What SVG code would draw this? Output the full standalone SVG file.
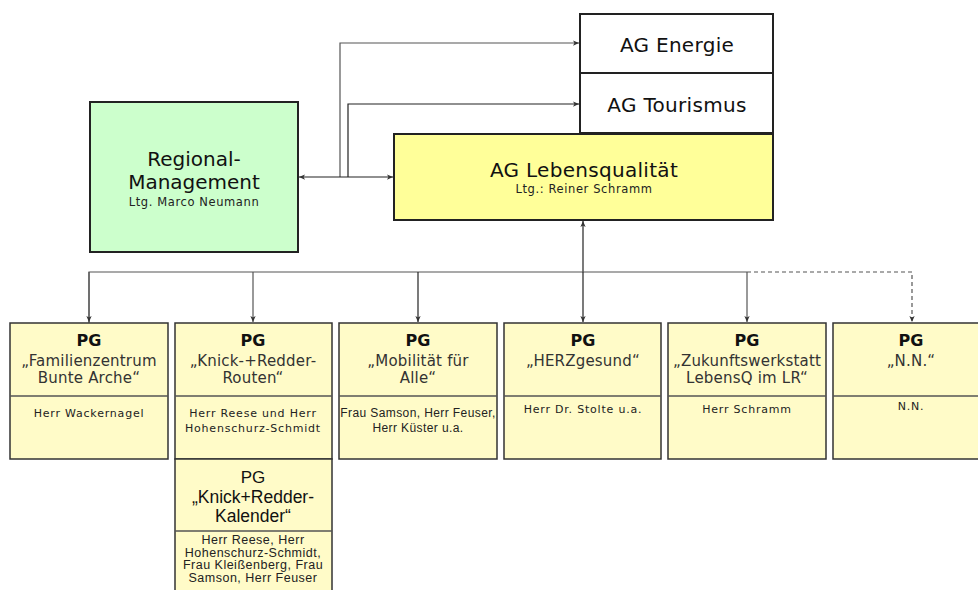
<svg xmlns="http://www.w3.org/2000/svg" width="978" height="590" viewBox="0 0 978 590">
<defs>
<marker id="ah" viewBox="0 0 8 8" refX="8" refY="4" markerWidth="6" markerHeight="6" orient="auto-start-reverse" markerUnits="userSpaceOnUse">
<path d="M0,0.5 L8,4 L0,7.5 L2,4 Z" fill="#333"/>
</marker>
</defs>
<style>
.box{stroke:#222;stroke-width:2}
.pg{fill:#FFFBC8;stroke:#333;stroke-width:1.5}
.div{stroke:#555;stroke-width:1.5}
.t{font-family:"DejaVu Sans",Verdana,sans-serif;fill:#111;text-anchor:middle}
.a{font-family:"Liberation Sans",Arial,sans-serif;fill:#111;text-anchor:middle}
.big{font-size:20px}
.ag{font-size:20px;letter-spacing:0.3px}
.sm{font-size:11.5px;letter-spacing:0.6px;fill:#222}
.pgh{font-size:16px;font-weight:bold}
.sub{font-size:15px;letter-spacing:0.2px;fill:#333}
.per{font-size:11px;letter-spacing:0.8px;fill:#222}
.pa{font-size:12px;letter-spacing:0.4px;fill:#222}
.pk{font-size:12.5px;letter-spacing:0.5px;fill:#222}
.ln{fill:none;stroke:#555;stroke-width:1.2}
.lk{fill:none;stroke:#222;stroke-width:1.2}
</style>
<rect width="978" height="590" fill="#fff"/>
<g id="connectors">
<path class="ln" d="M340,177 V43 H579" marker-end="url(#ah)"/>
<path class="lk" d="M348,177 V104 H579" marker-end="url(#ah)"/>
<path class="lk" d="M299,177 H393" marker-start="url(#ah)" marker-end="url(#ah)"/>
<path class="lk" d="M583,272 V221" marker-end="url(#ah)"/>
<path class="ln" d="M89,323 V272 H747"/>
<path class="ln" d="M89,272 V322" marker-end="url(#ah)"/>
<path class="ln" d="M253,272 V322" marker-end="url(#ah)"/>
<path class="lk" d="M418,272 V322" marker-end="url(#ah)"/>
<path class="lk" d="M583,272 V322" marker-end="url(#ah)"/>
<path class="ln" d="M747,272 V322" marker-end="url(#ah)"/>
<path class="ln" d="M747,272 H912 V322" stroke-dasharray="4,3" marker-end="url(#ah)"/>
</g>
<g id="ag-energie">
<rect class="box" x="580" y="14" width="193" height="59" fill="#fff"/>
<text class="t ag" x="677" y="52">AG Energie</text>
</g>
<g id="ag-tourismus">
<rect class="box" x="580" y="73" width="193" height="60" fill="#fff"/>
<text class="t ag" x="677" y="112">AG Tourismus</text>
</g>
<g id="ag-lebensqualitaet">
<rect class="box" x="394" y="134" width="379" height="86" fill="#FFFF99"/>
<text class="t ag" x="584" y="177">AG Lebensqualität</text>
<text class="t sm" x="584" y="193">Ltg.: Reiner Schramm</text>
</g>
<g id="regional-management">
<rect class="box" x="90" y="102" width="208" height="150" fill="#CCFFCC"/>
<text class="t big" x="194" y="166">Regional-</text>
<text class="t big" x="194" y="189">Management</text>
<text class="t sm" x="194" y="206">Ltg. Marco Neumann</text>
</g>
<g id="pg-familienzentrum">
<rect class="pg" x="10" y="323" width="158" height="136"/>
<line class="div" x1="10" y1="396" x2="168" y2="396"/>
<text class="t pgh" x="89" y="346">PG</text>
<text class="t sub" x="89" y="366">„Familienzentrum</text>
<text class="t sub" x="89" y="383">Bunte Arche“</text>
<text class="t per" x="89" y="417">Herr Wackernagel</text>
</g>
<g id="pg-knick-routen">
<rect class="pg" x="175" y="323" width="157" height="136"/>
<line class="div" x1="175" y1="396" x2="332" y2="396"/>
<text class="t pgh" x="253" y="346">PG</text>
<text class="t sub" x="253" y="366">„Knick-+Redder-</text>
<text class="t sub" x="253" y="383">Routen“</text>
<text class="t per" x="253" y="417">Herr Reese und Herr</text>
<text class="t per" x="253" y="432">Hohenschurz-Schmidt</text>
</g>
<g id="pg-mobilitaet">
<rect class="pg" x="339" y="323" width="158" height="136"/>
<line class="div" x1="339" y1="396" x2="497" y2="396"/>
<text class="t pgh" x="418" y="346">PG</text>
<text class="t sub" x="418" y="366">„Mobilität für</text>
<text class="t sub" x="418" y="383">Alle“</text>
<text class="a pa" x="418" y="417">Frau Samson, Herr Feuser,</text>
<text class="a pa" x="418" y="432">Herr Küster u.a.</text>
</g>
<g id="pg-herzgesund">
<rect class="pg" x="504" y="323" width="157" height="136"/>
<line class="div" x1="504" y1="396" x2="661" y2="396"/>
<text class="t pgh" x="583" y="346">PG</text>
<text class="t sub" x="583" y="366">„HERZgesund“</text>
<text class="t per" x="583" y="413">Herr Dr. Stolte u.a.</text>
</g>
<g id="pg-zukunftswerkstatt">
<rect class="pg" x="668" y="323" width="158" height="136"/>
<line class="div" x1="668" y1="396" x2="826" y2="396"/>
<text class="t pgh" x="747" y="346">PG</text>
<text class="t sub" x="747" y="366">„Zukunftswerkstatt</text>
<text class="t sub" x="747" y="383">LebensQ im LR“</text>
<text class="t per" x="747" y="413">Herr Schramm</text>
</g>
<g id="pg-nn">
<rect class="pg" x="833" y="323" width="158" height="136"/>
<line class="div" x1="833" y1="396" x2="991" y2="396"/>
<text class="t pgh" x="911" y="346">PG</text>
<text class="t sub" x="911" y="366">„N.N.“</text>
<text class="t per" x="911" y="410">N.N.</text>
</g>
<g id="pg-knick-kalender">
<rect class="pg" x="175" y="459" width="157" height="140"/>
<line class="div" x1="175" y1="531" x2="332" y2="531"/>
<text class="a" x="253" y="483" font-size="17px">PG</text>
<text class="a" x="253" y="503" font-size="17.5px">„Knick+Redder-</text>
<text class="a" x="253" y="522" font-size="17.5px">Kalender“</text>
<text class="a pk" x="253" y="544">Herr Reese, Herr</text>
<text class="a pk" x="253" y="556.5">Hohenschurz-Schmidt,</text>
<text class="a pk" x="253" y="569">Frau Kleißenberg, Frau</text>
<text class="a pk" x="253" y="581.5">Samson, Herr Feuser</text>
</g>
</svg>
